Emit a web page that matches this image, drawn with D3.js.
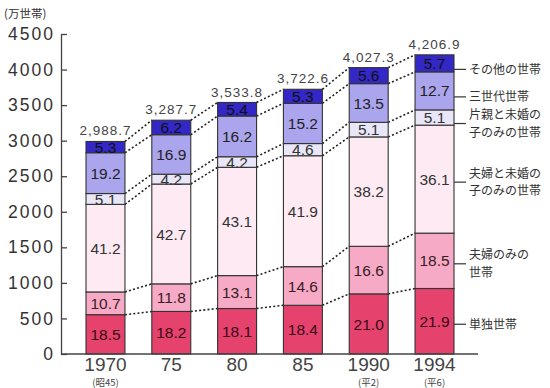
<!DOCTYPE html>
<html>
<head>
<meta charset="utf-8">
<script src="https://cdn.jsdelivr.net/npm/d3@7"></script>
<style>
  html, body { margin: 0; padding: 0; background: #fff; }
  svg { display: block; }
</style>
</head>
<body>
<svg id="chart" width="550" height="388"></svg>
<script>
// Household composition by type (share %, bottom to top) and totals (10,000 households)
const years = ["1970", "75", "80", "85", "1990", "1994"];
const eraLabels = ["(昭45)", "", "", "", "(平2)", "(平6)"];
const totals = [2988.7, 3287.7, 3533.8, 3722.6, 4027.3, 4206.9];
const totalLabels = ["2,988.7", "3,287.7", "3,533.8", "3,722.6", "4,027.3", "4,206.9"];

const typeNames = [
  ["単独世帯"],
  ["夫婦のみの", "世帯"],
  ["夫婦と未婚の", "子のみの世帯"],
  ["片親と未婚の", "子のみの世帯"],
  ["三世代世帯"],
  ["その他の世帯"]
];
const single      = [18.5, 18.2, 18.1, 18.4, 21.0, 21.9];
const coupleOnly  = [10.7, 11.8, 13.1, 14.6, 16.6, 18.5];
const coupleChild = [41.2, 42.7, 43.1, 41.9, 38.2, 36.1];
const parentChild = [5.1, 4.2, 4.2, 4.6, 5.1, 5.1];
const threeGen    = [19.2, 16.9, 16.2, 15.2, 13.5, 12.7];
const other       = [5.3, 6.2, 5.4, 5.3, 5.6, 5.7];
const yTicks = [0, 500, 1000, 1500, 2000, 2500, 3000, 3500, 4000, 4500];

const shares = [single, coupleOnly, coupleChild, parentChild, threeGen, other];
const fills = ["#e5436d", "#f6aac5", "#fdeaf2", "#e9e6f7", "#aaa5ec", "#3327c6"];
const textFills = ["#3a0816", "#3a1a26", "#333", "#333", "#222", "#111"];

const svg = d3.select("#chart");

const x = d3.scaleBand().domain(years).range([61, 479])
  .paddingInner(0.408).paddingOuter(0.38);
const y = d3.scaleLinear().domain([0, 4500]).range([354, 34]);
const bw = x.bandwidth();

// cumulative boundaries per year, in household units
const stacks = years.map((yr, i) => {
  let acc = 0;
  return shares.map((s, k) => {
    const v = totals[i] * s[i] / 100;
    const seg = { k, y0: acc, y1: acc + v, pct: s[i], year: yr, i };
    acc += v;
    return seg;
  });
});

// dotted connectors between matching boundaries of neighbouring bars
const conn = svg.append("g");
for (let i = 0; i < years.length - 1; i++) {
  for (let k = 0; k < shares.length; k++) {
    const a = stacks[i][k].y1, b = stacks[i + 1][k].y1;
    conn.append("line")
      .attr("x1", x(years[i]) + bw).attr("y1", y(a))
      .attr("x2", x(years[i + 1])).attr("y2", y(b))
      .attr("stroke", "#222").attr("stroke-width", 1.6)
      .attr("stroke-dasharray", "2,2.2");
  }
}

// bars
const bars = svg.append("g");
stacks.forEach(segs => {
  const g = bars.append("g");
  g.selectAll("rect").data(segs).join("rect")
    .attr("x", d => x(d.year))
    .attr("width", bw)
    .attr("y", d => y(d.y1))
    .attr("height", d => y(d.y0) - y(d.y1))
    .attr("fill", d => fills[d.k])
    .attr("stroke", "#333").attr("stroke-width", 1.1);
  g.selectAll("text").data(segs).join("text")
    .attr("x", d => x(d.year) + bw / 2)
    .attr("y", d => (y(d.y0) + y(d.y1)) / 2)
    .attr("dy", "0.36em")
    .attr("text-anchor", "middle")
    .attr("font-family", "Liberation Sans, Arial, sans-serif")
    .attr("font-size", 15.5)
    .attr("fill", d => textFills[d.k])
    .text(d => d.pct.toFixed(1));
});

// totals above bars
svg.append("g").selectAll("text").data(years).join("text")
  .attr("x", d => x(d) + bw / 2)
  .attr("y", (d, i) => y(totals[i]) - 6)
  .attr("text-anchor", "middle")
  .attr("font-family", "Liberation Sans, Arial, sans-serif")
  .attr("font-size", 13.5)
  .attr("letter-spacing", 1)
  .attr("fill", "#444")
  .text((d, i) => totalLabels[i]);

// y axis
const yAxis = d3.axisLeft(y).tickValues(yTicks).tickFormat(d3.format("d"))
  .tickSizeInner(-6).tickSizeOuter(0).tickPadding(8);
const ya = svg.append("g").attr("transform", "translate(61,0)").call(yAxis);
ya.select(".domain").attr("stroke", "#444").attr("stroke-width", 1.3);
ya.selectAll(".tick line").attr("stroke", "#444").attr("stroke-width", 1.3);
ya.selectAll(".tick text")
  .attr("font-family", "Liberation Sans, Arial, sans-serif")
  .attr("font-size", 17.5)
  .attr("letter-spacing", 2)
  .attr("dx", 2)
  .attr("fill", "#333");

svg.append("text").attr("x", 4).attr("y", 18)
  .attr("font-family", "Noto Sans CJK JP, sans-serif")
  .attr("font-size", 11.5).attr("fill", "#333")
  .text("(万世帯)");

// x baseline and year labels
svg.append("line").attr("x1", 61).attr("x2", 478)
  .attr("y1", y(0)).attr("y2", y(0))
  .attr("stroke", "#444").attr("stroke-width", 1.3);

svg.append("g").selectAll("text").data(years).join("text")
  .attr("x", d => x(d) + bw / 2)
  .attr("y", 371)
  .attr("text-anchor", "middle")
  .attr("font-family", "Liberation Sans, Arial, sans-serif")
  .attr("font-size", 19)
  .attr("fill", "#444")
  .text(d => d);

svg.append("g").selectAll("text").data(years).join("text")
  .attr("x", d => x(d) + bw / 2)
  .attr("y", 386)
  .attr("text-anchor", "middle")
  .attr("font-family", "Noto Sans CJK JP, sans-serif")
  .attr("font-size", 9.5)
  .attr("fill", "#444")
  .text((d, i) => eraLabels[i]);

// type labels beside the last bar
const last = stacks[years.length - 1];
const lx = x(years[years.length - 1]) + bw;
const lg = svg.append("g");
last.forEach(seg => {
  const cy = (y(seg.y0) + y(seg.y1)) / 2 + (seg.k >= 3 ? 6 : 3);
  lg.append("line").attr("x1", lx).attr("x2", lx + 12)
    .attr("y1", cy).attr("y2", cy)
    .attr("stroke", "#333").attr("stroke-width", 1.2);
  const lines = typeNames[seg.k];
  lines.forEach((t, j) => {
    lg.append("text")
      .attr("x", lx + 15)
      .attr("y", cy + (j - (lines.length - 1) / 2) * 17.5)
      .attr("dy", "0.36em")
      .attr("font-family", "Noto Sans CJK JP, sans-serif")
      .attr("font-size", 12)
      .attr("fill", "#333")
      .text(t);
  });
});
</script>
</body>
</html>
